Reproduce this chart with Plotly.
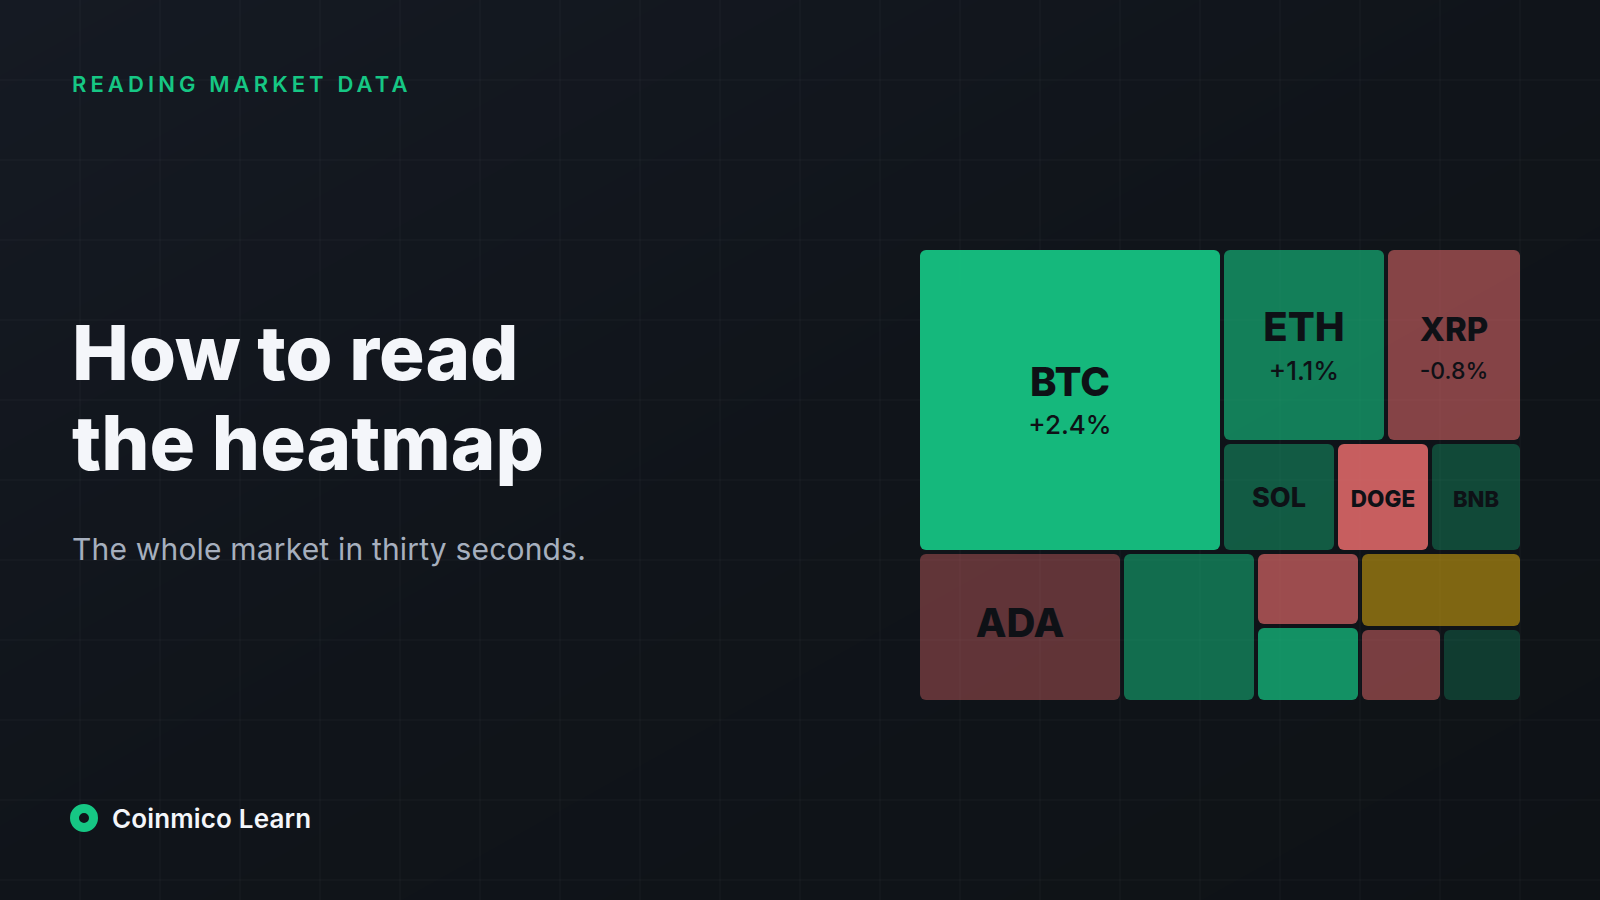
import plotly.graph_objects as go

W, H = 1600, 900
GREEN = "#16C784"
INK = "#0E1116"

# Treemap hierarchy: tile weights
ids = ["market", "top", "bottom", "BTC", "right", "r1", "r2", "ETH", "XRP", "SOL", "DOGE", "BNB",
       "ADA", "G1", "c1", "c2", "P1", "G2", "OL", "r3", "R2", "D1"]
parents = ["", "market", "market", "top", "top", "right", "right", "r1", "r1", "r2", "r2", "r2",
           "bottom", "bottom", "bottom", "bottom", "c1", "c1", "c2", "c2", "r3", "r3"]
weights = [0, 0, 0, 92416, 0, 0, 0, 31816, 26384, 12540, 10340, 10120,
           30600, 20100, 0, 0, 7696, 7904, 12312, 0, 6068, 5920]
colors = ["rgba(0,0,0,0)"] * 3 + ["rgba(22,199,132,0.92)"] + ["rgba(0,0,0,0)"] * 3 + [
    "rgba(22,199,132,0.60)", "rgba(232,108,108,0.55)",
    "rgba(22,199,132,0.40)", "rgba(232,108,108,0.85)", "rgba(22,199,132,0.30)",
    "rgba(232,108,108,0.38)", "rgba(22,199,132,0.50)", "rgba(0,0,0,0)", "rgba(0,0,0,0)",
    "rgba(232,108,108,0.65)", "rgba(22,199,132,0.70)", "rgba(240,185,11,0.50)", "rgba(0,0,0,0)",
    "rgba(232,108,108,0.49)", "rgba(22,199,132,0.23)"]


def pad(size):
    return f'<span style="font-size:{size}px">&nbsp;</span>' if size else ""


def tile(sym, size, pct=None, psize=None, lead="", trail="", name_pad=0, pct_pad=0):
    s = f'{lead}{pad(name_pad)}<span style="font-size:{size}px;font-weight:800">{sym}</span>{pad(name_pad)}{trail}'
    if pct:
        s += f'<br>{pad(pct_pad)}<span style="font-size:{psize}px;font-weight:500">{pct}</span>{pad(pct_pad)}'
    return s


texts = ["", "", "", tile("BTC", 40, "+2.4%", 26, pct_pad=39), "", "", "",
         tile("ETH", 40, "+1.1%", 26, pct_pad=35),
         tile("XRP", 33, "-0.8%", 23, name_pad=37),
         tile("SOL", 27), tile("DOGE", 22.5, lead="&nbsp;<br>"), tile("BNB", 22, lead="&nbsp;<br>"),
         tile("ADA", 40, trail="<br>&nbsp;"),
         "", "", "", "", "", "", "", "", ""]
base_sizes = [10, 10, 10, 29.5, 10, 10, 10, 29.5, 29.5, 26, 11, 11, 12.7] + [10] * 9

grid_x = list(range(80, 1600, 80))
grid_y = list(range(80, 900, 80))
bg_z = [[0.0, 0.5], [0.5, 1.0]]

fig = go.Figure()
fig.add_trace(go.Heatmap(x=[0, W], y=[0, H], z=bg_z, zsmooth="best", showscale=False, hoverinfo="skip",
                         colorscale=[[0, "#151A23"], [0.5, "#10141A"], [1, "#0E1216"]]))
gx, gy = [], []
for v in grid_x:
    gx += [v, v, None]
    gy += [0, H, None]
for v in grid_y:
    gx += [0, W, None]
    gy += [v, v, None]
fig.add_trace(go.Scatter(x=gx, y=gy, mode="lines", hoverinfo="skip", showlegend=False,
                         line=dict(color="rgba(255,255,255,0.04)", width=1)))
fig.add_trace(go.Scatter(x=[84], y=[818], mode="markers", hoverinfo="skip", showlegend=False,
                         marker=dict(size=19, color="#10141A", line=dict(color=GREEN, width=9))))
fig.add_trace(go.Treemap(
    ids=ids, labels=ids, parents=parents, values=weights, branchvalues="remainder", sort=False,
    text=texts, textinfo="text", textposition="middle center", hoverinfo="skip",
    textfont=dict(family="Inter", size=base_sizes, color=INK),
    tiling=dict(packing="dice-slice", pad=4),
    pathbar=dict(visible=False),
    root=dict(color="rgba(0,0,0,0)"),
    marker=dict(colors=colors, depthfade=False, cornerradius=6,
                line=dict(width=0), pad=dict(t=0, l=0, r=0, b=0)),
    domain=dict(x=[920 / W, 1520 / W], y=[1 - 700 / H, 1 - 250 / H]),
))


def note(x, y, text, size, color, weight=400, spacing=None):
    t = text
    if spacing is not None:
        t = f'<span style="letter-spacing:{spacing}px">{text}</span>'
    fig.add_annotation(x=x, y=y, xref="x", yref="y", text=t, showarrow=False, xanchor="left", yanchor="middle",
                       align="left", font=dict(family="Inter", size=size, color=color, weight=weight))


note(70, 84, "READING MARKET DATA", 22, GREEN, 600, 4.1)
note(70, 352, "How to read", 76, "#F4F6FA", 800, 0)
note(70, 442, "the heatmap", 76, "#F4F6FA", 800, 0)
note(70, 549, "The whole market in thirty seconds.", 30, "#A6AFBE", 400, 0.18)
note(110, 818, "Coinmico Learn", 26, "#F4F6FA", 600, 0.15)

fig.update_layout(
    width=W, height=H, margin=dict(l=0, r=0, t=0, b=0), showlegend=False,
    paper_bgcolor="#10141A", plot_bgcolor="#10141A",
    xaxis=dict(range=[0, W], visible=False, fixedrange=True),
    yaxis=dict(range=[H, 0], visible=False, fixedrange=True),
)
fig.write_html("out.html", config=dict(displayModeBar=False),
               post_script="document.body.style.margin='0';document.body.style.overflow='hidden';")
